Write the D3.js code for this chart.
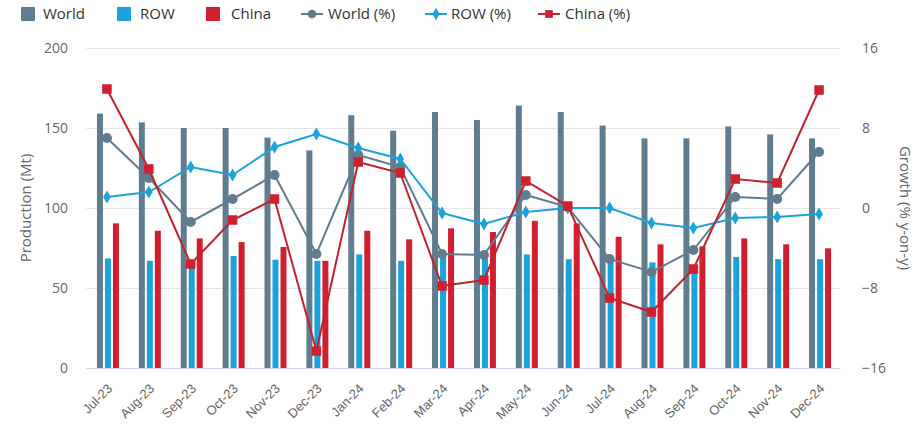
<!DOCTYPE html>
<html>
<head>
<meta charset="utf-8">
<script src="https://cdn.jsdelivr.net/npm/d3@7/dist/d3.min.js"></script>
<style>
  html, body { margin: 0; padding: 0; background: #fff; }
  svg { display: block; font-family: "Open Sans", "DejaVu Sans", sans-serif; }
</style>
</head>
<body>
<svg id="chart" width="916" height="430"></svg>
<script>
const categories = ["Jul-23","Aug-23","Sep-23","Oct-23","Nov-23","Dec-23","Jan-24","Feb-24","Mar-24","Apr-24","May-24","Jun-24","Jul-24","Aug-24","Sep-24","Oct-24","Nov-24","Dec-24"];
const worldProd = [159, 153.5, 150, 150, 144, 136, 158, 148.3, 160, 155, 164, 160, 151.5, 143.5, 143.5, 151, 146, 143.5];
const rowProd   = [68.5, 67, 65, 70, 67.7, 67, 71, 67, 69.5, 68.5, 71, 68, 67.5, 66, 64, 69.4, 68, 68];
const chinaProd = [90.4, 85.8, 81, 78.7, 75.6, 67, 85.8, 80.4, 87.3, 85, 92, 90.4, 82, 77.3, 76, 81, 77.3, 74.8];
const worldPct  = [7.0, 3.0, -1.4, 0.9, 3.3, -4.6, 5.3, 4.1, -4.6, -4.7, 1.3, 0.1, -5.1, -6.4, -4.2, 1.1, 0.9, 5.6];
const rowPct    = [1.1, 1.6, 4.1, 3.3, 6.1, 7.4, 6.0, 4.9, -0.5, -1.6, -0.4, 0.0, 0.0, -1.5, -2.0, -1.0, -0.9, -0.6];
const chinaPct  = [11.9, 3.9, -5.6, -1.2, 0.9, -14.3, 4.6, 3.5, -7.8, -7.2, 2.7, 0.2, -9.0, -10.4, -6.1, 2.9, 2.5, 11.8];
const leftTicks = [0, 50, 100, 150, 200];
const rightTicks = [-16, -8, 0, 8, 16];

const colors = { world: "#5f7d8e", row: "#1aa3dc", china: "#d0202f", chinaLine: "#c0222e" };

const svg = d3.select("#chart");
const pLeft = 86, pRight = 840, pTop = 48, pBottom = 368;

const x = d3.scaleBand().domain(categories).range([pLeft, pRight]).paddingInner(0).paddingOuter(0);
const yL = d3.scaleLinear().domain([0, 200]).range([pBottom, pTop]);
const yR = d3.scaleLinear().domain([-16, 16]).range([pBottom, pTop]);
const cx = c => x(c) + x.bandwidth() / 2;

// grid
svg.append("g").selectAll("line").data(leftTicks.filter(t => t > 0)).join("line")
  .attr("x1", pLeft).attr("x2", pRight)
  .attr("y1", d => yL(d) + 0.5).attr("y2", d => yL(d) + 0.5)
  .attr("stroke", "#e6e6e6").attr("stroke-width", 1);

// left axis
const gL = svg.append("g").attr("transform", `translate(${pLeft},0)`)
  .call(d3.axisLeft(yL).tickValues(leftTicks).tickSize(0).tickPadding(18));
gL.select(".domain").remove();
gL.selectAll("text").attr("fill", "#666").attr("font-size", 14).attr("font-family", "Open Sans, sans-serif");

// right axis
const gR = svg.append("g").attr("transform", `translate(${pRight},0)`)
  .call(d3.axisRight(yR).tickValues(rightTicks).tickSize(0).tickPadding(22));
gR.select(".domain").remove();
gR.selectAll("text").attr("fill", "#666").attr("font-size", 14).attr("font-family", "Open Sans, sans-serif");

// bottom axis
const gB = svg.append("g").attr("transform", `translate(0,${pBottom})`)
  .call(d3.axisBottom(x).tickSize(0).tickPadding(10));
gB.select(".domain").attr("stroke", "#ccd6eb");
gB.selectAll("text").attr("fill", "#666").attr("font-size", 13)
  .attr("text-anchor", "end").attr("dy", "0.35em")
  .attr("transform", "translate(-4,11) rotate(-45)");

// axis titles
svg.append("text").attr("transform", `translate(31,${(pTop + pBottom) / 2}) rotate(-90)`)
  .attr("text-anchor", "middle").attr("fill", "#666").attr("font-size", 15).text("Production (Mt)");
svg.append("text").attr("transform", `translate(900,${(pTop + pBottom) / 2}) rotate(90)`)
  .attr("text-anchor", "middle").attr("fill", "#666").attr("font-size", 15).text("Growth (% y-on-y)");

// bars
const bw = 6;
const barSeries = [
  { data: worldProd, color: colors.world, off: -10 },
  { data: rowProd, color: colors.row, off: -2 },
  { data: chinaProd, color: colors.china, off: 6 }
];
barSeries.forEach(s => {
  svg.append("g").selectAll("rect").data(categories).join("rect")
    .attr("x", (c) => cx(c) + s.off)
    .attr("width", bw)
    .attr("y", (c, i) => yL(s.data[i]))
    .attr("height", (c, i) => yL(0) - yL(s.data[i]))
    .attr("fill", s.color);
});

// lines
const line = d3.line().x(d => cx(d.c)).y(d => yR(d.v));
function drawLine(data, color, markerColor, shape) {
  const pts = categories.map((c, i) => ({ c, v: data[i] }));
  const g = svg.append("g");
  g.append("path").datum(pts).attr("d", line).attr("fill", "none")
    .attr("stroke", color).attr("stroke-width", 2);
  g.selectAll("path.m").data(pts).join("path").attr("class", "m")
    .attr("transform", d => `translate(${cx(d.c)},${yR(d.v)})`)
    .attr("d", d3.symbol().type(shape).size(shape === d3.symbolSquare ? 90 : (shape === d3.symbolDiamond ? 50 : 80)))
    .attr("fill", markerColor);
}
drawLine(worldPct, colors.world, colors.world, d3.symbolCircle);
drawLine(rowPct, colors.row, colors.row, d3.symbolDiamond);
drawLine(chinaPct, colors.chinaLine, colors.china, d3.symbolSquare);

// legend
const legend = svg.append("g").attr("font-size", 15).attr("fill", "#333");
const legItems = [
  { name: "World", type: "bar", color: colors.world, x: 21, tx: 43 },
  { name: "ROW", type: "bar", color: colors.row, x: 117, tx: 140 },
  { name: "China", type: "bar", color: colors.china, x: 206, tx: 231 },
  { name: "World (%)", type: "line", color: colors.world, shape: d3.symbolCircle, x: 301, tx: 328 },
  { name: "ROW (%)", type: "line", color: colors.row, shape: d3.symbolDiamond, x: 425, tx: 451 },
  { name: "China (%)", type: "line", color: colors.chinaLine, mcolor: colors.china, shape: d3.symbolSquare, x: 538, tx: 565 }
];
legItems.forEach(it => {
  const g = legend.append("g").attr("transform", `translate(${it.x},14)`);
  const tdx = it.tx - it.x;
  if (it.type === "bar") {
    g.append("rect").attr("x", 0).attr("y", -7).attr("width", 14).attr("height", 14).attr("fill", it.color);
    g.append("text").attr("x", tdx).attr("y", 0).attr("dy", "0.35em").attr("fill", "#333").text(it.name);
  } else {
    g.append("line").attr("x1", 0).attr("x2", 22).attr("y1", 0).attr("y2", 0)
      .attr("stroke", it.color).attr("stroke-width", 2);
    g.append("path").attr("transform", "translate(11,0)")
      .attr("d", d3.symbol().type(it.shape).size(it.shape === d3.symbolDiamond ? 45 : 60))
      .attr("fill", it.mcolor || it.color);
    g.append("text").attr("x", tdx).attr("y", 0).attr("dy", "0.35em").attr("fill", "#333").text(it.name);
  }
});
</script>
</body>
</html>
